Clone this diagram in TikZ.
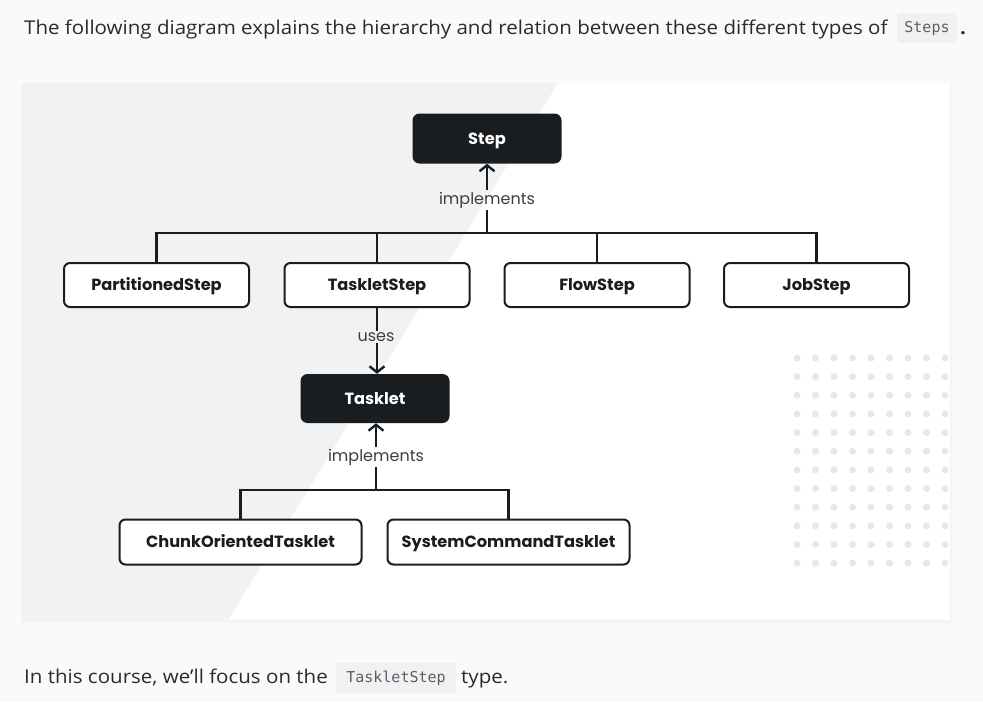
\documentclass[tikz,border=0pt]{standalone}
\usepackage{fontspec}
\setmainfont{Open Sans}[FakeStretch=1.08]
\newfontfamily\diagfont{Poppins}
\newfontfamily\codefont{DejaVu Sans Mono}
\usetikzlibrary{arrows.meta,calc}
\definecolor{pagebg}{HTML}{FAFAFA}
\definecolor{cardgray}{HTML}{F1F2F4}
\definecolor{dotgray}{HTML}{E5E8EB}
\definecolor{ink}{HTML}{1A1D1F}
\definecolor{txt}{HTML}{2B2B2B}
\definecolor{codebg}{HTML}{F1F1F1}
\definecolor{codetxt}{HTML}{56606B}
\begin{document}
\begin{tikzpicture}[x=1pt,y=-1pt,
  lightbox/.style={draw=ink, line width=2pt, fill=white, rounded corners=6pt,
    minimum width=185pt, minimum height=44pt, inner sep=0pt,
    text height=11.5pt, text depth=0pt,
    font=\diagfont\bfseries\fontsize{16.2}{18}\selectfont, text=ink},
  solidbox/.style={fill=ink, rounded corners=7pt, inner sep=0pt,
    minimum width=149pt, minimum height=50pt,
    text height=11.5pt, text depth=0pt,
    font=\diagfont\bfseries\fontsize{16.2}{18}\selectfont, text=white},
  conn/.style={draw=ink, line width=2.6pt, line join=miter},
  arr/.style={conn, -{Straight Barb[length=6pt,width=15pt,line width=2.4pt]}},
  lbl/.style={font=\diagfont\fontsize{16}{18}\selectfont, text=ink!85, inner sep=1.5pt},
  bodytext/.style={font=\fontsize{19}{22}\selectfont, text=txt, inner sep=0pt},
  codebox/.style={fill=codebg, rounded corners=3pt, inner sep=0pt,
    font=\codefont\fontsize{15}{17}\selectfont, text=codetxt}
]
% page
\useasboundingbox (0,0) rectangle (983,702);
\fill[pagebg] (0,0) rectangle (983,702);

% top text
\node[bodytext, anchor=base west] (t1) at (24,34)
  {The following diagram explains the hierarchy and relation between these different types of};
\node[codebox, minimum width=60pt, minimum height=30pt] (c1) at (927,28) {Steps};
\node[bodytext, anchor=base west] (t2) at (960,34) {\textbf{.}};

% card with shadow
\fill[black!3] (21,84) rectangle (952,624);
\fill[black!5] (22,84) rectangle (951,622);
\fill[white] (22,83) rectangle (950,620);
\fill[cardgray] (22,83) -- (558,83) -- (228,620) -- (22,620) -- cycle;

% dots
\foreach \i in {0,...,8}
  \foreach \j in {0,...,11}
    \fill[dotgray] (797+\i*18.5, 358+\j*18.65) circle (3.5);

% nodes
\node[solidbox] (step) at (487,138.5) {Step};
\node[lightbox] (ps) at (156.5,285) {PartitionedStep};
\node[lightbox] (ts) at (377,285) {TaskletStep};
\node[lightbox] (fs) at (597,285) {FlowStep};
\node[lightbox] (js) at (816.5,285) {JobStep};
\node[solidbox, minimum height=49pt] (tasklet) at (375,398.5) {Tasklet};
\node[lightbox, minimum width=242pt, minimum height=45pt] (cot) at (240.5,542) {ChunkOrientedTasklet};
\node[lightbox, minimum width=242pt, minimum height=45pt] (sct) at (508.5,542) {SystemCommandTasklet};

% labels
\node[lbl] (impl1) at (487,200) {implements};
\node[lbl] (uses) at (376,337) {uses};
\node[lbl] (impl2) at (376,457) {implements};

% bus 1
\coordinate (bus1) at (487,233);
\draw[conn] (ps.north) |- (bus1) -| (js.north);
\draw[conn] (ts.north) -- (ts.north |- bus1);
\draw[conn] (fs.north) -- (fs.north |- bus1);
\draw[conn] (bus1) -- (impl1.south);
\draw[arr] (impl1.north) -- (step.south);

% uses
\draw[conn] (ts.south) -- (ts.south |- uses.north);
\draw[arr] (uses.south -| ts.south) -- (tasklet.north -| ts.south);

% bus 2
\coordinate (bus2) at (376,490);
\draw[conn] (cot.north) |- (bus2) -| (sct.north);
\draw[conn] (bus2) -- (impl2.south);
\draw[arr] (impl2.north) -- (tasklet.south -| impl2.north);

% bottom text
\node[bodytext, anchor=base west] (b1) at (24,683) {In this course, we'll focus on the};
\node[codebox, minimum width=120pt, minimum height=30pt] (c2) at (396,678) {TaskletStep};
\node[bodytext, anchor=base west] (b2) at (461,683) {type.};
\end{tikzpicture}
\end{document}
